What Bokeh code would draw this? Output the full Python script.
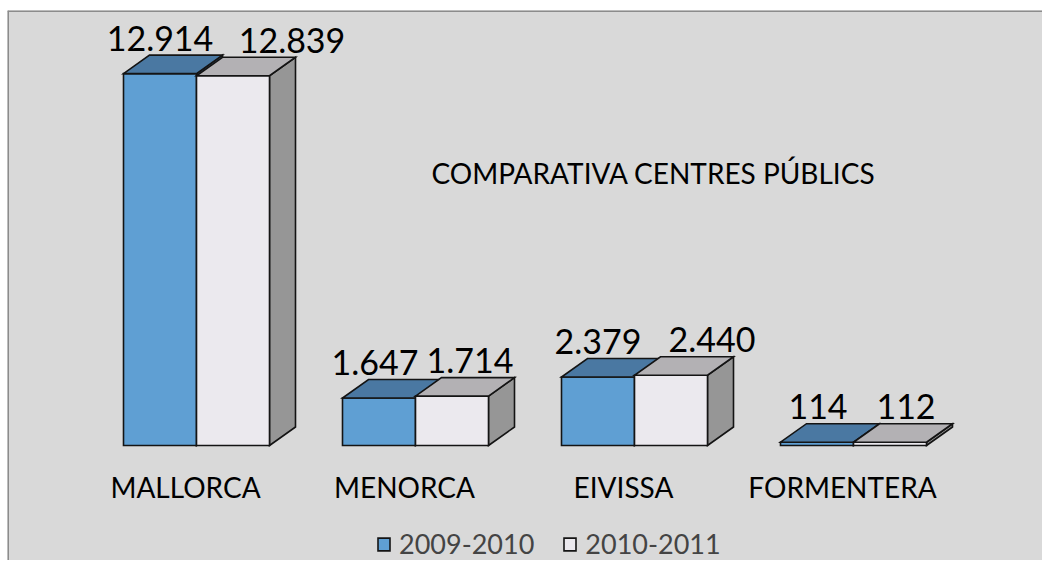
from bokeh.plotting import figure
from bokeh.models import Label, Legend, LegendItem, ColumnDataSource, Span
from bokeh.core.properties import value
from bokeh.embed import file_html
from bokeh.resources import INLINE

# ---------------- data ----------------
categories = ["MALLORCA", "MENORCA", "EIVISSA", "FORMENTERA"]
series_names = ["2009-2010", "2010-2011"]
values_2009_2010 = [12914, 1647, 2379, 114]
values_2010_2011 = [12839, 1714, 2440, 112]
title_text = "COMPARATIVA CENTRES PÚBLICS"

# ---------------- style / geometry ----------------
W, H = 1042, 560
LEFT, TOP = 7, 10
FW, FH = W - LEFT, H - TOP
PX_PER_CAT = 219.0
PX_PER_VAL = 0.0288
BASE_PX = 435.0          # baseline distance from frame top
FIRST_CENTER_PX = 189.0  # first category centre from frame left
BAR_W = 73.0 / PX_PER_CAT
DX = 26.0 / PX_PER_CAT
DY = 18.5 / PX_PER_VAL
FONT = "Lato"

colors = {
    "2009-2010": dict(front="#5f9fd3", top="#4a78a2", side="#3d6790"),
    "2010-2011": dict(front="#ebe9ee", top="#b3b1b4", side="#969696"),
}
label_nudge = {"2009-2010": [0, -4, 0, 1], "2010-2011": [59, 18, 41, 16]}

def fmt(v):
    return f"{v:,}".replace(",", ".")

x0r = -FIRST_CENTER_PX / PX_PER_CAT
y0r = -(FH - BASE_PX) / PX_PER_VAL
y1r = BASE_PX / PX_PER_VAL
p = figure(width=W, height=H, output_backend="svg", toolbar_location=None,
           x_range=(x0r, x0r + FW / PX_PER_CAT), y_range=(y0r, y1r),
           min_border_left=LEFT, min_border_right=0, min_border_bottom=0,
           min_border_top=TOP)
p.axis.visible = False
p.grid.visible = False
p.background_fill_color = "#d9d9d9"
p.border_fill_color = "white"
p.outline_line_color = None
p.add_layout(Span(location=x0r, dimension="height", line_color="#8c8c8c", line_width=3))
p.add_layout(Span(location=y1r, dimension="width", line_color="#8c8c8c", line_width=3))

line_kw = dict(line_color="#141414", line_width=1.6, line_join="miter")
front_renderers = {}
for j, (name, vals) in enumerate(zip(series_names, [values_2009_2010, values_2010_2011])):
    fronts, tops, sides = ([], []), ([], []), ([], [])
    lx, ly, lt = [], [], []
    for i, v in enumerate(vals):
        x0 = i + (j - 1) * BAR_W
        x1 = x0 + BAR_W
        fronts[0].append([x0, x1, x1, x0]); fronts[1].append([0, 0, v, v])
        tops[0].append([x0, x1, x1 + DX, x0 + DX]); tops[1].append([v, v, v + DY, v + DY])
        sides[0].append([x1, x1 + DX, x1 + DX, x1]); sides[1].append([0, DY, v + DY, v])
        lx.append(x0 + BAR_W / 2); ly.append(v + DY); lt.append(fmt(v))
    c = colors[name]
    p.patches(xs=sides[0], ys=sides[1], fill_color=c["side"], **line_kw)
    fr = p.patches(xs=fronts[0], ys=fronts[1], fill_color=c["front"], **line_kw)
    p.patches(xs=tops[0], ys=tops[1], fill_color=c["top"], **line_kw)
    front_renderers[name] = fr
    src = ColumnDataSource(dict(x=lx, y=ly, t=lt, dx=label_nudge[name]))
    p.text(x="x", y="y", text="t", source=src, x_offset="dx", y_offset=-17,
           text_align="center", text_baseline="alphabetic",
           text_font=value(FONT), text_font_size="34px", text_color="#000000")

cat_src = ColumnDataSource(dict(x=list(range(len(categories))), y=[0] * len(categories), t=categories))
p.text(x="x", y="y", text="t", source=cat_src, x_offset=-11, y_offset=41,
       text_align="center", text_baseline="alphabetic",
       text_font=value(FONT), text_font_size="28px", text_color="#000000")

p.add_layout(Label(x=646, y=FH - 174 + 12, x_units="screen", y_units="screen", text=title_text,
                   text_align="center", text_baseline="alphabetic",
                   text_font=FONT, text_font_size="28px", text_color="#000000"))

legend = Legend(items=[LegendItem(label=n, renderers=[front_renderers[n]]) for n in series_names],
                location=(369, 0), orientation="horizontal",
                glyph_width=15, glyph_height=16, label_standoff=8, spacing=28,
                padding=0, margin=0, label_text_font=FONT, label_text_font_size="27px",
                background_fill_alpha=0, border_line_alpha=0)
p.add_layout(legend)

open("out.html", "w").write(file_html(p, INLINE))
